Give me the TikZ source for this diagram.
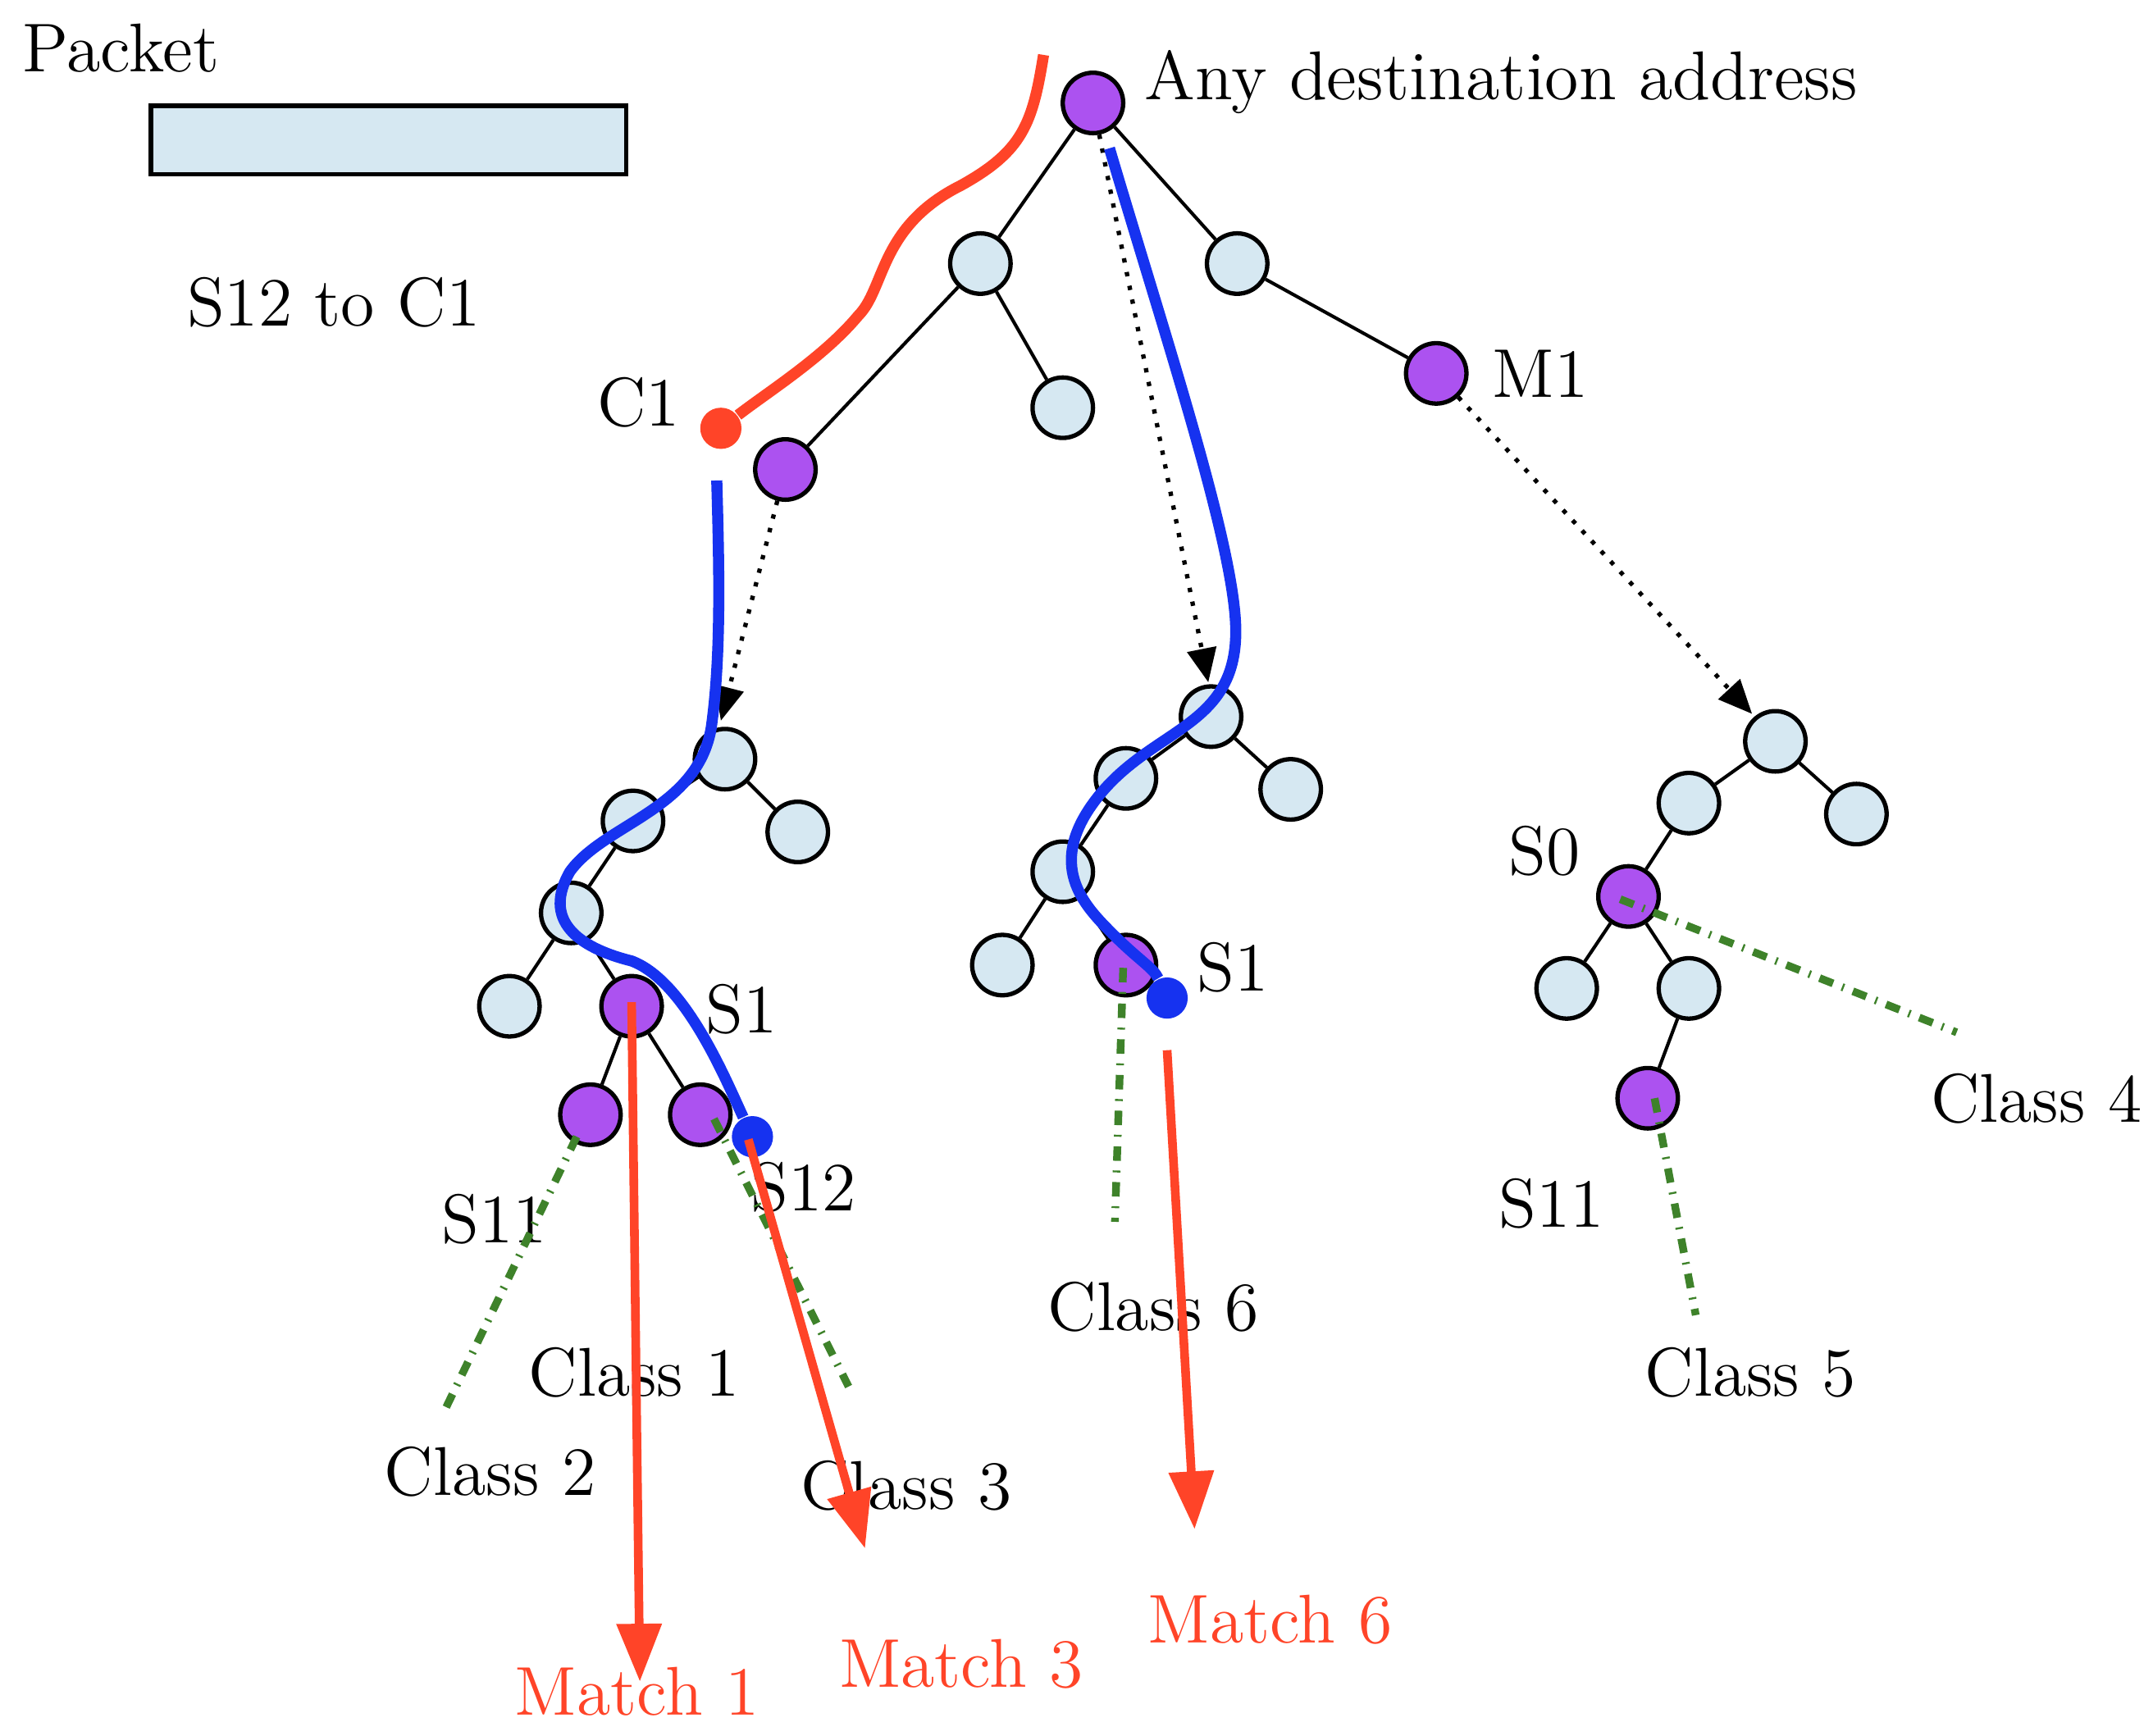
\documentclass[tikz,border=0pt]{standalone}
\usetikzlibrary{arrows.meta}
\definecolor{lb}{RGB}{214,232,242}
\definecolor{pu}{RGB}{172,82,240}
\definecolor{rd}{RGB}{255,68,40}
\definecolor{bl}{RGB}{22,50,240}
\definecolor{gr}{RGB}{62,130,42}
\begin{document}
\begin{tikzpicture}[x=0.01cm,y=-0.01cm,font=\fontsize{14.3}{16}\selectfont,
 n/.style={circle,draw,line width=0.9pt,fill=lb,minimum size=0.44cm,inner sep=0pt},
 p/.style={n,fill=pu},
 e/.style={line width=0.7pt},
 dt/.style={dotted,line width=0.9pt,-{Triangle[length=7pt,width=6pt]}},
 bc/.style={bl,line width=2.3pt},
 rc/.style={rd,line width=2.3pt},
 ra/.style={rd,line width=1.8pt,-{Triangle[length=12pt,width=9pt]}},
 gd/.style={gr,dash dot,line width=1.6pt},
 lab/.style={inner sep=0pt},
 rl/.style={lab,text=rd}]
\useasboundingbox (0,0) rectangle (1568,1264);
\node[lab] (pk) at (88,35) {Packet};
\node[draw,fill=lb,line width=0.9pt,minimum width=3.46cm,minimum height=0.5cm,inner sep=0pt] (box) at (283,102) {};
\node[lab] (s12c1) at (243,220) {S12 to C1};
% top tree
\node[p] (R) at (796,75) {};
\node[lab,anchor=west] (Rl) at (833,60) {Any destination address};
\node[n] (A) at (714,192) {};
\node[n] (B) at (901,192) {};
\node[p] (M1) at (1046,272) {};
\node[lab] (M1l) at (1122,272) {M1};
\node[n] (A1) at (774,297) {};
\node[p] (C1p) at (572,342) {};
\draw[e] (R)--(A) (R)--(B) (A)--(A1) (A)--(C1p) (B)--(M1);
% left subtree
\node[n] (L0) at (528,553) {};
\node[n] (L1) at (461,598) {};
\node[n] (L2) at (581,606) {};
\node[n] (L3) at (416,665) {};
\node[n] (L4) at (371,733) {};
\node[p] (S1) at (460,733) {};
\node[p] (S11) at (430,812) {};
\node[p] (S12) at (510,812) {};
\draw[e] (L0)--(L1) (L0)--(L2) (L1)--(L3) (L3)--(L4) (L3)--(S1) (S1)--(S11) (S1)--(S12);
% middle subtree
\node[n] (M0) at (882,522) {};
\node[n] (Ma) at (820,567) {};
\node[n] (Mb) at (940,575) {};
\node[n] (Mc) at (774,635) {};
\node[n] (Md) at (730,703) {};
\node[p] (S1m) at (820,703) {};
\draw[e] (M0)--(Ma) (M0)--(Mb) (Ma)--(Mc) (Mc)--(Md) (Mc)--(S1m);
% right subtree
\node[n] (N0) at (1293,540) {};
\node[n] (Na) at (1230,585) {};
\node[n] (Nb) at (1352,593) {};
\node[p] (S0) at (1186,653) {};
\node[n] (Nc) at (1141,720) {};
\node[n] (Nd) at (1230,720) {};
\node[p] (S11r) at (1200,800) {};
\draw[e] (N0)--(Na) (N0)--(Nb) (Na)--(S0) (S0)--(Nc) (S0)--(Nd) (Nd)--(S11r);
% dotted arrows
\coordinate (d1) at (525,525); \coordinate (d2) at (880,497); \coordinate (d3) at (1276,520);
\draw[dt] (C1p)--(d1);
\draw[dt] (R)--(d2);
\draw[dt] (M1)--(d3);
% red top curve
\node[circle,fill=rd,minimum size=0.3cm,inner sep=0pt] (C1d) at (525,312) {};
\node[lab] (C1l) at (465,293) {C1};
\coordinate (rt) at (760,40);
\draw[rc] (rt) .. controls (752,90) and (745,110) .. (700,135) .. controls (640,165) and (645,210) .. (625,230) .. controls (600,260) and (560,285) .. (C1d);
% blue curves
\node[circle,fill=bl,minimum size=0.3cm,inner sep=0pt] (bd1) at (548,828) {};
\node[circle,fill=bl,minimum size=0.3cm,inner sep=0pt] (bd2) at (850,727) {};
\coordinate (b1s) at (522,350);
\draw[bc] (b1s) .. controls (524,420) and (525,480) .. (518,530) .. controls (508,590) and (440,600) .. (415,635) .. controls (395,670) and (420,690) .. (460,700) .. controls (500,715) and (530,790) .. (bd1);
\coordinate (b2s) at (808,108);
\draw[bc] (b2s) .. controls (850,250) and (900,400) .. (900,460) .. controls (900,530) and (840,530) .. (800,580) .. controls (760,630) and (790,660) .. (810,680) .. controls (830,700) and (840,705) .. (bd2);
% class lines
\node[lab] (S1l) at (540,735) {S1};
\node[lab] (S12l) at (585,865) {S12};
\node[lab] (S11l) at (360,888) {S11};
\node[lab] (c1) at (462,1000) {Class 1};
\node[lab] (c2) at (357,1072) {Class 2};
\node[lab] (c3) at (660,1082) {Class 3};
\coordinate (g1) at (325,1025); \coordinate (g2) at (618,1010);
\draw[gd] (420,828)--(g1);
\draw[gd] (520,815)--(g2);
\node[lab] (S1ml) at (898,705) {S1};
\node[lab] (c6) at (840,952) {Class 6};
\coordinate (g3) at (812,890);
\draw[gd] (818,705)--(g3);
\node[lab] (S0l) at (1125,620) {S0};
\node[lab] (S11rl) at (1130,877) {S11};
\node[lab] (c4) at (1483,800) {Class 4};
\node[lab] (c5) at (1275,1000) {Class 5};
\coordinate (g4) at (1425,752); \coordinate (g5) at (1235,958);
\draw[gd] (1180,655)--(g4);
\draw[gd] (1205,800)--(g5);
% red arrows
\node[rl] (m1) at (464,1232) {Match 1};
\node[rl] (m3) at (700,1212) {Match 3};
\node[rl] (m6) at (925,1180) {Match 6};
\coordinate (a1s) at (460,730); \coordinate (a1e) at (466,1225);
\coordinate (a3s) at (545,830); \coordinate (a3e) at (630,1128);
\coordinate (a6s) at (850,765); \coordinate (a6e) at (870,1114);
\draw[ra] (a1s)--(a1e);
\draw[ra] (a3s)--(a3e);
\draw[ra] (a6s)--(a6e);
\end{tikzpicture}
\end{document}
